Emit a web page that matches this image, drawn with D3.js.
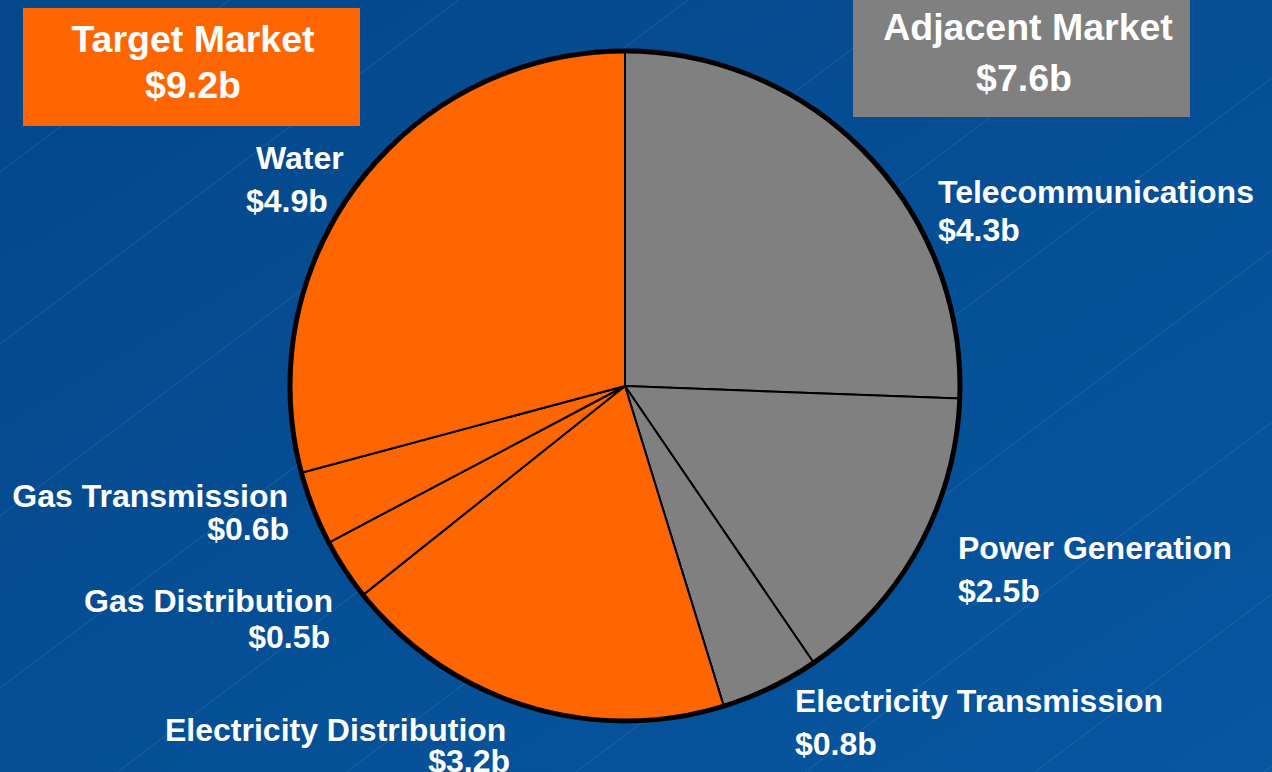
<!DOCTYPE html>
<html>
<head>
<meta charset="utf-8">
<script src="https://cdn.jsdelivr.net/npm/d3@7"></script>
<style>
  html, body { margin: 0; padding: 0; background: #054d93; }
  svg { display: block; }
  text { font-family: "Liberation Sans", Arial, sans-serif; font-weight: bold; fill: #ffffff; }
</style>
</head>
<body>
<svg id="chart" width="1272" height="772"></svg>
<script>
// ---- data ----
const segments = ["Telecommunications", "Power Generation", "Electricity Transmission",
                  "Electricity Distribution", "Gas Distribution", "Gas Transmission", "Water"];
const values   = [4.3, 2.5, 0.8, 3.2, 0.5, 0.6, 4.9];
const markets  = ["Adjacent", "Adjacent", "Adjacent", "Target", "Target", "Target", "Target"];
const marketNames = ["Target", "Adjacent"];
const marketTitles = ["Target Market", "Adjacent Market"];

// ---- layout (not data) ----
const W = 1272, H = 772;
const cx = 625, cy = 386, R = 335;
const colors = { Target: "#ff6600", Adjacent: "#808080" };
const labelLayout = {
  "Telecommunications":       { name: [938, 203, "start"], val: [938, 241, "start"] },
  "Power Generation":         { name: [958, 559, "start"], val: [958, 602, "start"] },
  "Electricity Transmission": { name: [795, 712, "start"], val: [795, 755, "start"] },
  "Electricity Distribution": { name: [165, 741, "start"], val: [510, 772, "end"] },
  "Gas Distribution":         { name: [333, 612, "end"],   val: [330, 648, "end"] },
  "Gas Transmission":         { name: [288, 507, "end"],   val: [289, 540, "end"] },
  "Water":                    { name: [256, 169, "start"], val: [246, 212, "start"] }
};
const boxLayout = {
  Target:   { x: 23,  y: 8,  w: 337, h: 118, t1: [193, 52], t2: [193, 98] },
  Adjacent: { x: 853, y: -2, w: 337, h: 119, t1: [1028, 40], t2: [1024, 91] }
};

const svg = d3.select("#chart");

// background
const defs = svg.append("defs");
const grad = defs.append("linearGradient").attr("id", "bg")
  .attr("x1", "0%").attr("y1", "0%").attr("x2", "100%").attr("y2", "100%");
grad.append("stop").attr("offset", "0%").attr("stop-color", "#04478a");
grad.append("stop").attr("offset", "100%").attr("stop-color", "#0756a0");
svg.append("rect").attr("width", W).attr("height", H).attr("fill", "url(#bg)");

// faint diagonal lines
const bgLines = svg.append("g").attr("stroke", "rgba(150,185,225,0.22)").attr("stroke-width", 0.8);
d3.range(1, 14).forEach(k => {
  const c = 172 * k;
  bgLines.append("line")
    .attr("x1", 0).attr("y1", c)
    .attr("x2", c / 0.75).attr("y2", 0);
});

// pie
const pie = d3.pie().sort(null).value(d => d.value).startAngle(0).endAngle(2 * Math.PI);
const data = segments.map((s, i) => ({ name: s, value: values[i], market: markets[i] }));
const arcs = pie(data);
const arc = d3.arc().innerRadius(0).outerRadius(R);

const g = svg.append("g").attr("transform", `translate(${cx},${cy})`);
g.selectAll("path.slice").data(arcs).join("path")
  .attr("class", "slice")
  .attr("d", arc)
  .attr("fill", d => colors[d.data.market])
  .attr("stroke", "#000")
  .attr("stroke-width", 2)
  .attr("stroke-linejoin", "round");
g.append("circle").attr("r", R).attr("fill", "none").attr("stroke", "#000").attr("stroke-width", 5);

// slice labels
const fmt = v => "$" + v.toFixed(1) + "b";
const labels = svg.append("g").style("font-size", "32px");
data.forEach(d => {
  const L = labelLayout[d.name];
  labels.append("text").attr("x", L.name[0]).attr("y", L.name[1])
    .attr("text-anchor", L.name[2]).text(d.name);
  labels.append("text").attr("x", L.val[0]).attr("y", L.val[1])
    .attr("text-anchor", L.val[2]).text(fmt(d.value));
});

// market boxes
marketNames.forEach((m, i) => {
  const total = d3.sum(data.filter(d => d.market === m), d => d.value);
  const B = boxLayout[m];
  const bg = svg.append("g");
  bg.append("rect").attr("x", B.x).attr("y", B.y).attr("width", B.w).attr("height", B.h)
    .attr("fill", colors[m]);
  bg.append("text").attr("x", B.t1[0]).attr("y", B.t1[1]).attr("text-anchor", "middle")
    .style("font-size", "37.5px").text(marketTitles[i]);
  bg.append("text").attr("x", B.t2[0]).attr("y", B.t2[1]).attr("text-anchor", "middle")
    .style("font-size", "37.5px").text(fmt(total));
});
</script>
</body>
</html>
